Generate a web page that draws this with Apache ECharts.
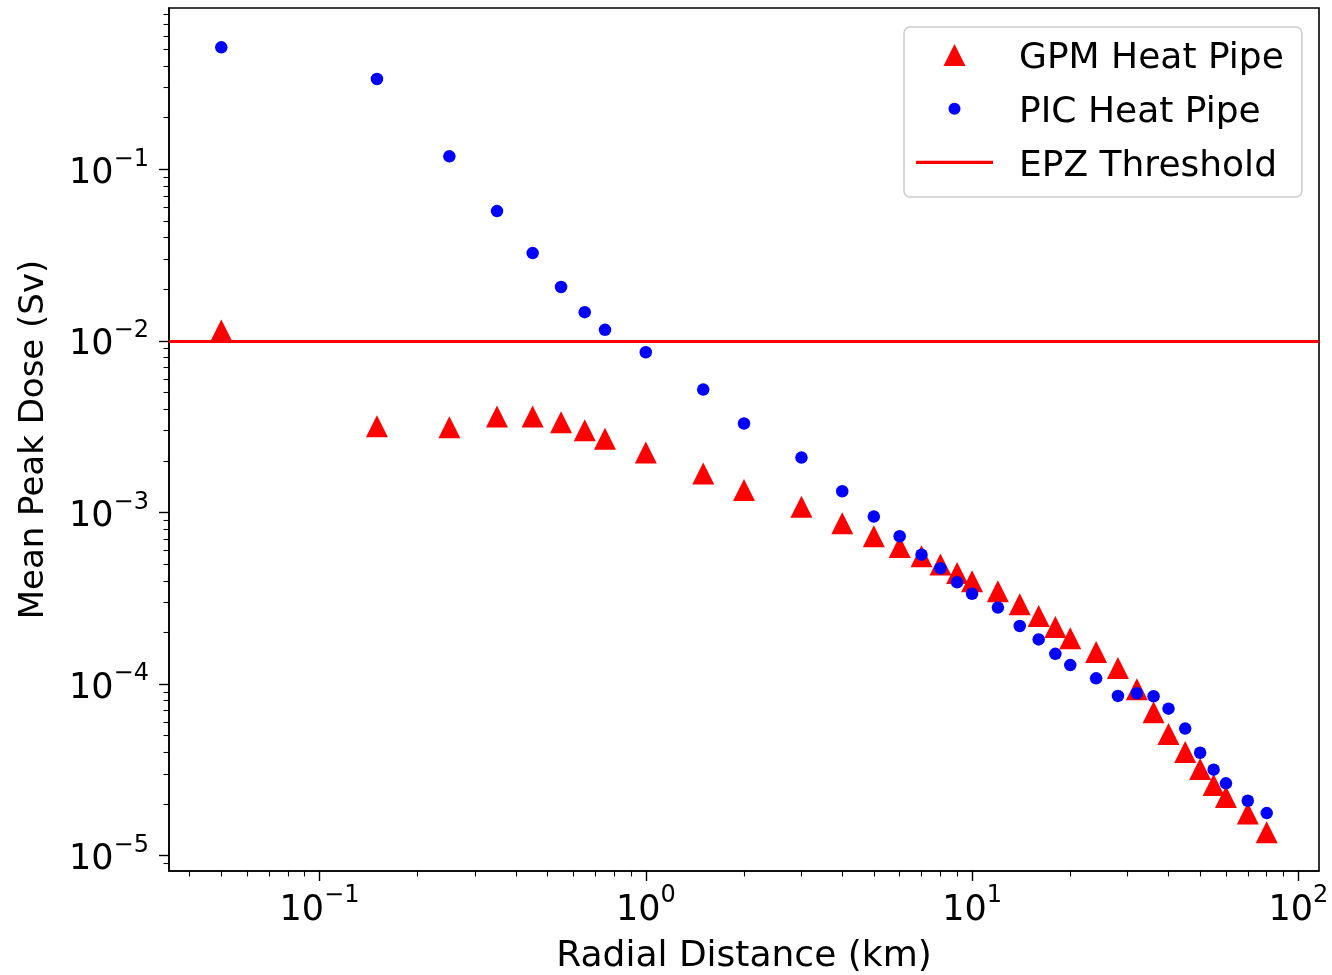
<!DOCTYPE html>
<html>
<head>
<meta charset="utf-8">
<title>Mean Peak Dose vs Radial Distance</title>
<script src="https://cdn.jsdelivr.net/npm/echarts@6/dist/echarts.min.js"></script>
<style>
  html, body { margin: 0; padding: 0; background: #ffffff; }
  #chart { width: 1332px; height: 975px; }
</style>
</head>
<body>
<div id="chart"></div>
<script>
// ---------------- data ----------------
const radialKm = [0.05, 0.15, 0.25, 0.35, 0.45, 0.55, 0.65, 0.75, 1, 1.5, 2, 3, 4, 5, 6, 7, 8, 9, 10,
                  12, 14, 16, 18, 20, 24, 28, 32, 36, 40, 45, 50, 55, 60, 70, 80];
const gpmDose = [0.0115, 0.00318, 0.00314, 0.00362, 0.00362, 0.00336, 0.00301, 0.00269,
                 0.00224, 0.00169, 0.00135, 0.00108, 0.000865, 0.000727, 0.000629, 0.000556, 0.000497, 0.000444, 0.000397,
                 0.000347, 0.000292, 0.000249, 0.000215, 0.000185,
                 0.000154, 0.000124, 0.0000933, 0.0000686, 0.0000512,
                 0.0000402, 0.0000320, 0.0000258, 0.0000220, 0.0000176, 0.0000137];
const picDose = [0.514, 0.336, 0.119, 0.0571, 0.0325, 0.0206, 0.0147, 0.0116,
                 0.00859, 0.00520, 0.00330, 0.00209, 0.00133, 0.000946, 0.000727, 0.000568, 0.000473, 0.000392, 0.000336,
                 0.000279, 0.000218, 0.000182, 0.000150, 0.000129,
                 0.000108, 0.0000853, 0.0000884, 0.0000849, 0.0000719,
                 0.0000550, 0.0000398, 0.0000317, 0.0000264, 0.0000209, 0.0000177];
const epzThreshold = 0.01;
const seriesNames = ['GPM Heat Pipe', 'PIC Heat Pipe', 'EPZ Threshold'];
const xTickValues = [0.1, 1, 10, 100];
const yTickValues = [1e-5, 1e-4, 1e-3, 1e-2, 1e-1];
const xRange = [0.03457, 115.7];
const yRange = [8.14e-6, 0.871];

// ---------------- chart ----------------
const FONT = 'DejaVu Sans';
const gpmPoints = radialKm.map((x, i) => [x, gpmDose[i]]);
const picPoints = radialKm.map((x, i) => [x, picDose[i]]);

function powLabel(v) {
  const l = Math.log10(v);
  const e = Math.round(l);
  if (Math.abs(l - e) > 1e-6) return '';
  const exp = e < 0 ? '\u2212' + (-e) : String(e);
  return '{b|10}{s|' + exp + '}';
}
const richPow = {
  b: { fontFamily: FONT, fontSize: 35, lineHeight: 44, verticalAlign: 'bottom', color: '#000' },
  s: { fontFamily: FONT, fontSize: 24, lineHeight: 24, verticalAlign: 'top', color: '#000' }
};
const axisCommon = {
  type: 'log',
  logBase: 10,
  splitLine: { show: false },
  axisLine: { show: true, lineStyle: { color: '#000', width: 1.6 } },
  axisTick: { show: true, length: 10, lineStyle: { color: '#000', width: 1.4 } },
  minorTick: { show: true, splitNumber: 9, length: 5.5, lineStyle: { color: '#000', width: 1.1 } },
  minorSplitLine: { show: false }
};

const chart = echarts.init(document.getElementById('chart'), null, { renderer: 'canvas' });
chart.setOption({
  backgroundColor: '#ffffff',
  animation: false,
  grid: {
    left: 169, right: 13, top: 8, bottom: 104,
    containLabel: false, outerBoundsMode: 'none',
    show: true, borderColor: '#000', borderWidth: 1.6, backgroundColor: 'transparent'
  },
  xAxis: Object.assign({}, axisCommon, {
    min: xRange[0], max: xRange[1],
    axisTick: Object.assign({}, axisCommon.axisTick, { customValues: xTickValues }),
    axisLabel: { customValues: xTickValues, formatter: powLabel, rich: richPow, margin: 13, hideOverlap: false },
    name: 'Radial Distance (km)',
    nameLocation: 'middle',
    nameGap: 69,
    nameTextStyle: { fontFamily: FONT, fontSize: 36, lineHeight: 34, color: '#000' }
  }),
  yAxis: Object.assign({}, axisCommon, {
    min: yRange[0], max: yRange[1],
    axisTick: Object.assign({}, axisCommon.axisTick, { customValues: yTickValues }),
    axisLabel: { customValues: yTickValues, formatter: powLabel, rich: richPow, margin: 20, hideOverlap: false },
    name: 'Mean Peak Dose (Sv)',
    nameLocation: 'middle',
    nameGap: 118,
    nameTextStyle: { fontFamily: FONT, fontSize: 34, lineHeight: 34, color: '#000' }
  }),
  legend: {
    orient: 'vertical',
    left: 904, top: 27,
    padding: [14, 18, 12.6, 12],
    itemWidth: 77, itemHeight: 30, itemGap: 17.7,
    backgroundColor: 'rgba(255,255,255,0.8)',
    borderColor: '#cccccc', borderWidth: 1.5, borderRadius: 6,
    textStyle: { fontFamily: FONT, fontSize: 36, lineHeight: 36, color: '#000', padding: [0, 0, 0, 21] },
    selectedMode: false,
    data: [
      { name: seriesNames[0], icon: 'path://M0,0M22,30M11,0L22,22L0,22Z' },
      { name: seriesNames[1], icon: 'path://M0,0M22,30M17,11A6,6,0,1,1,5,11A6,6,0,1,1,17,11Z' },
      { name: seriesNames[2], icon: 'path://M0,0M77,30M0,9.4L77,9.4L77,12.6L0,12.6Z' }
    ]
  },
  series: [
    {
      name: seriesNames[0], type: 'scatter', data: gpmPoints,
      symbol: 'triangle', symbolSize: 22,
      itemStyle: { color: '#ff0000', opacity: 1 }, z: 2
    },
    {
      name: seriesNames[1], type: 'scatter', data: picPoints,
      symbol: 'circle', symbolSize: 12.5,
      itemStyle: { color: '#0000ff', opacity: 1 }, z: 3
    },
    {
      name: seriesNames[2], type: 'line', data: [],
      symbol: 'none',
      itemStyle: { color: '#ff0000' },
      lineStyle: { color: '#ff0000', width: 3.2 },
      markLine: {
        silent: true, symbol: ['none', 'none'], animation: false,
        label: { show: false },
        lineStyle: { color: '#ff0000', width: 3.2, type: 'solid' },
        data: [{ yAxis: epzThreshold }]
      },
      z: 4
    }
  ]
});
</script>
</body>
</html>
